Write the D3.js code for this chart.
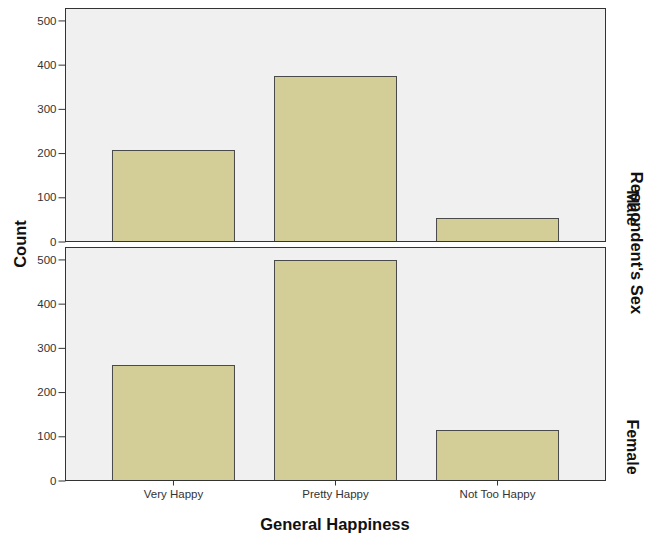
<!DOCTYPE html>
<html><head><meta charset="utf-8">
<script src="https://cdn.jsdelivr.net/npm/d3@7"></script>
<style>body{margin:0;background:#fff}svg{display:block}</style>
</head><body><svg width="654" height="538"></svg>
<script>
const categories = ["Very Happy", "Pretty Happy", "Not Too Happy"];
const panels = ["Male", "Female"];
const maleCounts = [206, 374, 53];
const femaleCounts = [261, 498, 112];
const yTicks = [0, 100, 200, 300, 400, 500];
const yMax = 527;

const svg = d3.select("svg");
const font = "'Liberation Sans', Arial, sans-serif";
const left = 65, right = 605;
const panelBoxes = [{top: 8, bottom: 241}, {top: 247, bottom: 480}];
const series = [maleCounts, femaleCounts];

const x = d3.scaleBand().domain(categories).range([left, right]).paddingInner(0.247).paddingOuter(0.29);

panels.forEach((p, i) => {
  const box = panelBoxes[i];
  const y = d3.scaleLinear().domain([0, yMax]).range([box.bottom, box.top]);
  const g = svg.append("g");
  g.append("rect").attr("x", left).attr("y", box.top).attr("width", right - left).attr("height", box.bottom - box.top)
    .attr("fill", "#f0f0f0");
  g.selectAll("rect.bar").data(categories).join("rect").attr("class", "bar")
    .attr("x", d => x(d) + 0.5).attr("width", x.bandwidth())
    .attr("y", (d, j) => Math.round(y(series[i][j])) + 0.5)
    .attr("height", (d, j) => box.bottom - Math.round(y(series[i][j])))
    .attr("fill", "#d3ce97").attr("stroke", "#4a4a4a").attr("stroke-width", 1);
  g.append("rect").attr("x", left + 0.5).attr("y", box.top + 0.5).attr("width", right - left).attr("height", box.bottom - box.top)
    .attr("fill", "none").attr("stroke", "#333").attr("stroke-width", 1);
  const ax = g.append("g").attr("transform", `translate(${left + 0.5},0.5)`)
    .call(d3.axisLeft(y).tickValues(yTicks).tickSize(7).tickPadding(2));
  ax.select(".domain").remove();
  ax.selectAll("line").attr("stroke", "#333");
  ax.selectAll("text").attr("font-family", font).attr("font-size", 11.5).attr("fill", "#333");
  svg.append("text").attr("transform", `translate(633,${box.bottom - 33}) rotate(90)`)
    .attr("text-anchor", "middle").attr("font-family", font).attr("font-size", 16).attr("font-weight", "bold")
    .attr("fill", "#111").attr("dy", "0.35em").text(p);
});

const xa = svg.append("g").attr("transform", `translate(0.5,${panelBoxes[1].bottom + 0.5})`)
  .call(d3.axisBottom(x).tickSize(5).tickPadding(4));
xa.select(".domain").remove();
xa.selectAll("line").attr("stroke", "#333");
xa.selectAll("text").attr("font-family", font).attr("font-size", 11.5).attr("fill", "#333");

svg.append("text").attr("x", 335).attr("y", 530).attr("text-anchor", "middle")
  .attr("font-family", font).attr("font-size", 16.5).attr("font-weight", "bold").attr("fill", "#111").text("General Happiness");
svg.append("text").attr("transform", "translate(20,244) rotate(-90)").attr("text-anchor", "middle").attr("dy", "0.35em")
  .attr("font-family", font).attr("font-size", 16.5).attr("font-weight", "bold").attr("fill", "#111").text("Count");
svg.append("text").attr("transform", "translate(637,243) rotate(90)").attr("text-anchor", "middle").attr("dy", "0.35em")
  .attr("font-family", font).attr("font-size", 16.5).attr("font-weight", "bold").attr("fill", "#111").text("Respondent's Sex");
</script></body></html>
